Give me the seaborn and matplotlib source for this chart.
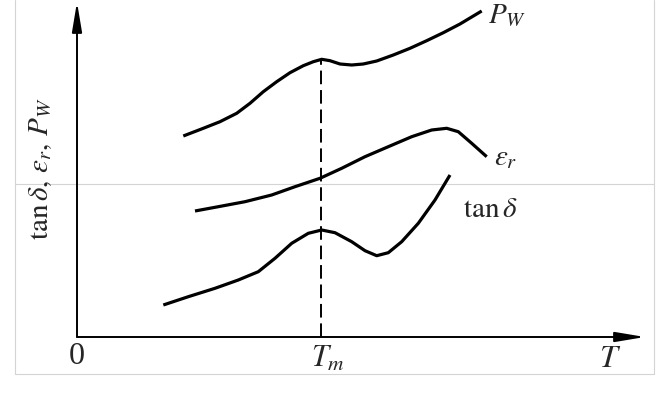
import matplotlib
matplotlib.use("Agg")
import matplotlib.pyplot as plt
import seaborn as sns
import numpy as np
import pandas as pd

# Schematic curves (x = temperature units from origin, y = value units from origin)
pw_x = [106.3, 126.3, 143, 159.7, 173, 186.3, 199.7, 213, 226.3, 236.3, 244.7,
        253, 263, 274.7, 286.3, 299.7, 316.3, 333, 349.7, 366.3, 383, 404.7]
pw_y = [201, 208.7, 215.3, 223.7, 233.7, 245.3, 255.3, 264.3, 271.3, 275.3, 277.7,
        276.3, 273, 272, 273, 276, 282, 288.7, 296.3, 304.3, 313, 326]

er_x = [118, 141.3, 168, 194.7, 218, 243, 264.7, 288, 311.3, 334.7, 354.7,
        369.7, 381.3, 394.7, 409.7]
er_y = [126, 130.3, 135.3, 142, 150.3, 158.7, 168.7, 180.3, 190.3, 200.3, 207,
        208.7, 205.3, 193.7, 180.3]

td_x = [86.3, 111.3, 138, 161.3, 181.3, 198, 214.7, 231.3, 244.7, 258, 274.7,
        288, 299.7, 311.3, 324.7, 341.3, 358, 373]
td_y = [32, 40.3, 48.7, 57, 65.3, 78.7, 93.7, 103.7, 107, 104.3, 95.3,
        86.3, 81.3, 84.3, 95.3, 113.7, 137, 162]

tm_x = 244
labels = {"pw": r"$P_W$", "er": r"$\varepsilon_r$", "td": r"$\tan\delta$"}
ylabel = r"$\tan\delta,\,\varepsilon_r,\,P_W$"

sns.set_style("white")
plt.rcParams["mathtext.fontset"] = "stix"
plt.rcParams["font.family"] = ["Liberation Serif", "DejaVu Serif"]

fig = plt.figure(figsize=(6.61, 3.95), dpi=100)
ax = fig.add_axes([0, 0, 1, 1])
ax.set_xlim(-77, 584)
ax.set_ylim(-58, 337)
ax.axis("off")

# light page frame
gray = "#d4d4d4"
ax.plot([-62, -62], [-37, 337], color=gray, lw=0.8)
ax.plot([-62, 577], [-37, -37], color=gray, lw=0.8)
ax.plot([577, 577], [-37, 337], color=gray, lw=0.8)
ax.plot([-62, 577], [153, 153], color=gray, lw=0.8)

for xs, ys in [(pw_x, pw_y), (er_x, er_y), (td_x, td_y)]:
    df = pd.DataFrame({"x": xs, "y": ys})
    sns.lineplot(data=df, x="x", y="y", ax=ax, color="black", lw=2.3,
                 sort=False, estimator=None,
                 solid_joinstyle="round", solid_capstyle="butt")

# dashed line at Tm
ax.plot([tm_x, tm_x], [0, 278], color="black", lw=1.4, dashes=(7, 3))

# axes with arrows
arrow = dict(arrowstyle="-|>,head_length=1.8,head_width=0.3", lw=1.4,
             color="black", shrinkA=0, shrinkB=0)
ax.annotate("", xy=(568, 0), xytext=(0, 0), arrowprops=arrow)
ax.annotate("", xy=(0, 335), xytext=(0, 0), arrowprops=arrow)

fs = 21
ax.text(0, -19, "0", fontsize=23, ha="center", va="center")
ax.text(tm_x + 7, -30, r"$T_m$", fontsize=fs + 1, ha="center", va="baseline")
ax.text(533, -30, r"$T$", fontsize=fs + 2, ha="center", va="baseline")
ax.text(386, 120, labels["td"], fontsize=fs, ha="left", va="baseline")
ax.text(417, 179, labels["er"], fontsize=fs, ha="left", va="center")
ax.text(411, 315, labels["pw"], fontsize=fs, ha="left", va="baseline")
ax.text(-37, 168, ylabel, fontsize=fs, rotation=90, ha="center", va="center")

fig.savefig("out.png", dpi=100)
